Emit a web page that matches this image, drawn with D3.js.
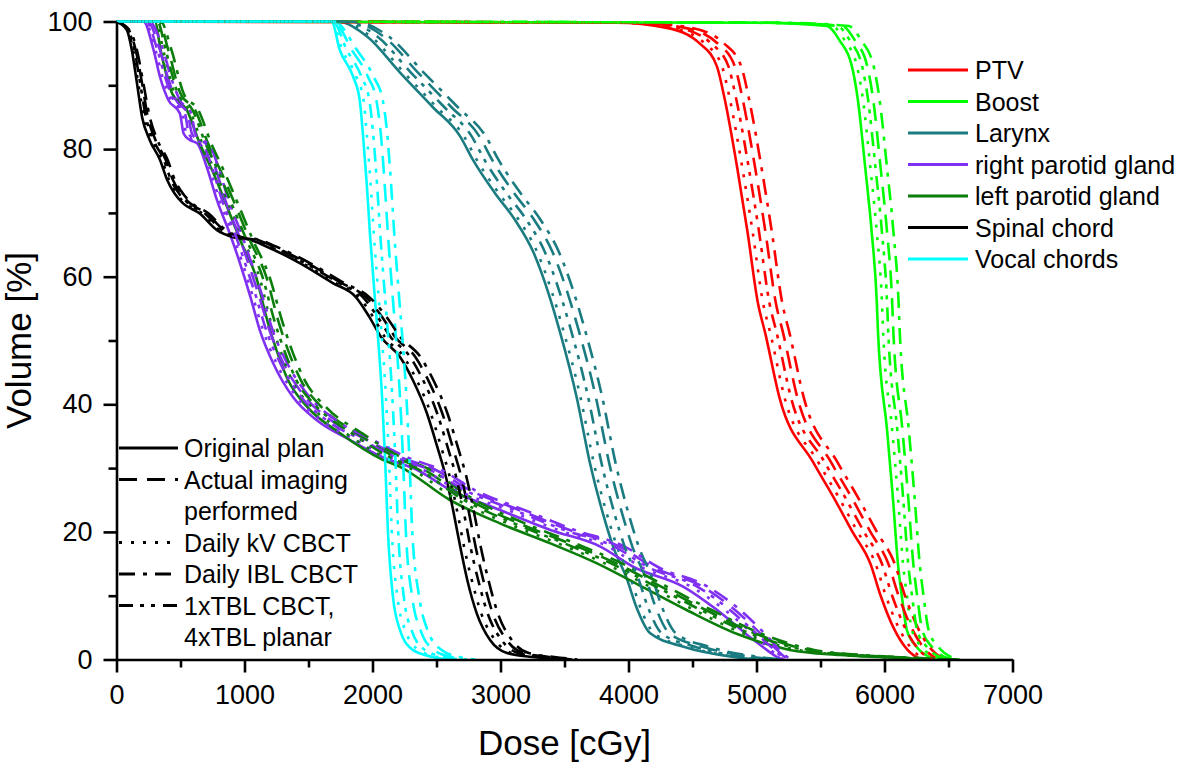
<!DOCTYPE html>
<html><head><meta charset="utf-8">
<script src="https://cdn.jsdelivr.net/npm/d3@7"></script>
<style>body{margin:0;background:#fff}svg{display:block}text{font-family:"Liberation Sans",Arial,Helvetica,sans-serif;fill:#000}</style>
</head><body>
<svg id="c" width="1181" height="769"></svg>
<script>
// ---- axis ticks ----
const doseTicks = [0,1000,2000,3000,4000,5000,6000,7000];
const doseMinor = [500,1500,2500,3500,4500,5500,6500];
const volTicks = [0,20,40,60,80,100];
const volMinor = [10,30,50,70,90];

// ---- names ----
const structures = ["PTV","Boost","Larynx","right parotid gland","left parotid gland","Spinal chord","Vocal chords"];
const structColors = ["#ff0000","#00ff00","#1a7c80","#8030f0","#0b7d0b","#000000","#00ffff"];
const scenarios = [["Original plan"],["Actual imaging","performed"],["Daily kV CBCT"],["Daily IBL CBCT"],["1xTBL CBCT,","4xTBL planar"]];
const scenarioDash = [null,"18,10","3,9","16,8,4,8","14,7,4,7,4,8"];

// ---- PTV ----
const ptvVol    = [100,99.8,99,96.5,93,88,77,67,56,51,41,31,25.5,20,15,10,5,1.5,0];
const ptvOrig   = [0,3900,4300,4560,4690,4750,4850,4930,5010,5070,5180,5440,5600,5750,5890,5970,6070,6180,6280];
const ptvActual = [0,4040,4440,4700,4830,4890,4990,5070,5150,5210,5320,5580,5740,5890,6030,6110,6210,6320,6420];
const ptvKV     = [0,3940,4340,4600,4730,4790,4890,4970,5050,5110,5220,5480,5640,5790,5930,6010,6110,6220,6320];
const ptvIBL    = [0,4090,4490,4750,4880,4940,5040,5120,5200,5260,5370,5630,5790,5940,6080,6160,6260,6370,6470];
const ptvTBL    = [0,3990,4390,4650,4780,4840,4940,5020,5100,5160,5270,5530,5690,5840,5980,6060,6160,6270,6370];

// ---- Boost ----
const boostVol    = [100,99.8,99.3,97,93,88,77,67,56,51,36,25.5,15,10,4.6,2,0.4,0];
const boostOrig   = [0,5000,5550,5650,5745,5790,5850,5900,5940,5950,6020,6065,6105,6135,6175,6250,6350,6420];
const boostActual = [0,5120,5670,5770,5865,5910,5970,6020,6060,6070,6140,6185,6225,6255,6295,6370,6470,6540];
const boostKV     = [0,5040,5590,5690,5785,5830,5890,5940,5980,5990,6060,6105,6145,6175,6215,6290,6390,6460];
const boostIBL    = [0,5170,5720,5820,5915,5960,6020,6070,6110,6120,6190,6235,6275,6305,6345,6420,6520,6590];
const boostTBL    = [0,5080,5630,5730,5825,5870,5930,5980,6020,6030,6100,6145,6185,6215,6255,6330,6430,6500];

// ---- Larynx ----
const larVol    = [100,100,97.6,92,86.6,82,78.3,73,69,63.7,57.4,51.3,41.1,30.7,22.9,17.7,12.5,8.3,4.1,2.0,0.4,0];
const larOrig   = [0,1720,1960,2215,2470,2685,2785,2960,3110,3260,3375,3465,3595,3700,3800,3880,3990,4060,4170,4430,4820,5000];
const larActual = [0,1820,2090,2355,2615,2835,2935,3110,3260,3410,3525,3615,3745,3850,3950,4030,4140,4210,4320,4580,4970,5150];
const larKV     = [0,1740,1990,2245,2500,2715,2815,2990,3140,3290,3405,3495,3625,3730,3830,3910,4020,4090,4200,4460,4850,5030];
const larIBL    = [0,1850,2130,2400,2665,2885,2985,3160,3310,3460,3575,3665,3795,3900,4000,4080,4190,4260,4370,4630,5020,5200];
const larTBL    = [0,1780,2040,2300,2560,2775,2875,3050,3200,3350,3465,3555,3685,3790,3890,3970,4080,4150,4260,4520,4910,5090];

// ---- right parotid gland ----
const rpVol    = [100,100,95.5,91.3,87.7,85.6,82.4,81.4,80.9,77.2,72.0,66.5,62.1,56.9,51.6,46.4,41.1,37.5,34.4,31.7,29.7,26.6,23.4,20.3,17.7,14.5,11.4,7.8,3.5,1.5,0.4,0];
const rpOrig   = [0,210,290,340,405,495,525,575,630,705,785,890,965,1045,1120,1225,1380,1565,1825,2080,2350,2605,3000,3390,3780,4040,4430,4690,4950,5080,5160,5200];
const rpActual = [0,240,340,400,465,555,590,640,695,770,850,955,1030,1115,1195,1305,1475,1675,1960,2225,2495,2755,3150,3540,3930,4190,4580,4830,5060,5160,5220,5250];
const rpKV     = [0,220,305,360,425,515,545,595,650,725,805,910,985,1065,1145,1250,1410,1600,1870,2130,2400,2660,3060,3450,3840,4100,4490,4750,5000,5110,5180,5210];
const rpIBL    = [0,255,365,425,495,585,615,665,720,795,875,980,1055,1140,1220,1335,1510,1715,2005,2270,2540,2795,3190,3580,3970,4230,4620,4870,5090,5180,5240,5270];
const rpTBL    = [0,230,320,380,445,535,565,615,670,745,825,930,1005,1090,1170,1280,1445,1640,1920,2180,2450,2715,3110,3500,3890,4150,4540,4790,5030,5140,5200,5230];

// ---- left parotid gland ----
const lpVol    = [100,100,95.5,88.7,86.1,80.9,76.1,70.9,65.8,60.0,53.0,48.5,43.8,39.6,35.5,31.3,30.2,25.0,21.3,18.2,15.1,11.9,7.8,4.0,1.5,0.7,0.2,0];
const lpOrig   = [0,300,345,435,550,650,760,865,965,1090,1180,1250,1340,1490,1745,2080,2215,2605,3000,3390,3750,4060,4450,4850,5260,5650,6180,6500];
const lpActual = [0,330,405,500,615,715,825,935,1040,1170,1265,1340,1440,1600,1875,2220,2360,2755,3150,3540,3900,4210,4600,5000,5410,5790,6290,6560];
const lpKV     = [0,310,365,455,570,670,780,885,990,1115,1205,1280,1370,1525,1790,2130,2270,2665,3060,3450,3810,4120,4510,4910,5320,5700,6220,6520];
const lpIBL    = [0,345,430,525,640,740,850,960,1065,1195,1295,1370,1470,1635,1915,2265,2405,2800,3195,3585,3945,4255,4645,5045,5450,5830,6320,6580];
const lpTBL    = [0,320,385,480,595,695,805,910,1015,1140,1235,1310,1405,1565,1835,2180,2320,2715,3110,3500,3860,4170,4560,4960,5370,5750,6260,6540];

// ---- Spinal chord ----
const scVol    = [100,98.7,95.5,90.3,85,81.4,78.3,75.2,73,71.5,69.9,67.3,66.2,65.8,64.7,62.1,59,56.8,53.7,50.6,47.4,43.8,38.6,33.4,28.1,22.9,17.7,12.5,7.2,3.0,1.0,0.4,0];
const scOrig   = [0,80,120,160,200,260,340,395,455,520,650,785,910,1040,1175,1435,1690,1870,1975,2065,2215,2315,2425,2505,2580,2635,2685,2740,2815,2920,3050,3250,3450];
const scActual = [0,95,150,200,245,305,385,440,505,575,705,840,965,1095,1230,1495,1760,1950,2075,2175,2335,2435,2545,2625,2700,2755,2805,2865,2940,3050,3180,3380,3560];
const scKV     = [0,85,130,170,215,275,355,410,470,540,670,805,930,1060,1195,1455,1715,1895,2005,2095,2245,2345,2455,2535,2610,2665,2715,2775,2850,2960,3090,3290,3480];
const scIBL    = [0,100,160,210,260,320,400,455,520,590,720,855,980,1110,1250,1515,1780,1975,2110,2215,2375,2475,2585,2665,2740,2795,2845,2905,2980,3090,3220,3420,3600];
const scTBL    = [0,90,140,185,230,290,370,425,490,560,690,825,950,1080,1215,1475,1740,1925,2040,2140,2295,2395,2505,2585,2660,2715,2765,2825,2900,3010,3140,3340,3520];

// ---- Vocal chords ----
const vcVol    = [100,100,95.5,91.3,87.7,82.4,74.6,66.8,56.3,51.3,41.1,30.7,20.3,9.8,4.6,1.5,0.4,0];
const vcOrig   = [0,1680,1745,1850,1900,1925,1955,1980,2020,2040,2075,2100,2120,2160,2215,2315,2470,2600];
const vcActual = [0,1695,1840,1965,2030,2065,2095,2120,2160,2180,2215,2240,2260,2310,2375,2480,2620,2740];
const vcKV     = [0,1685,1765,1875,1930,1955,1985,2010,2050,2070,2105,2130,2150,2195,2255,2360,2510,2640];
const vcIBL    = [0,1700,1880,2010,2080,2115,2145,2170,2210,2230,2265,2290,2310,2365,2430,2540,2680,2800];
const vcTBL    = [0,1690,1800,1915,1975,2005,2035,2060,2100,2120,2155,2180,2200,2245,2305,2410,2560,2690];

const curves = [
  {vol: ptvVol,   doses: [ptvOrig, ptvActual, ptvKV, ptvIBL, ptvTBL]},
  {vol: boostVol, doses: [boostOrig, boostActual, boostKV, boostIBL, boostTBL]},
  {vol: larVol,   doses: [larOrig, larActual, larKV, larIBL, larTBL]},
  {vol: rpVol,    doses: [rpOrig, rpActual, rpKV, rpIBL, rpTBL]},
  {vol: lpVol,    doses: [lpOrig, lpActual, lpKV, lpIBL, lpTBL]},
  {vol: scVol,    doses: [scOrig, scActual, scKV, scIBL, scTBL]},
  {vol: vcVol,    doses: [vcOrig, vcActual, vcKV, vcIBL, vcTBL]}
];

const svg = d3.select("#c");
const x = d3.scaleLinear().domain([0,7000]).range([116.5,1012.5]);
const y = d3.scaleLinear().domain([0,100]).range([659.5,21.5]);

const line = d3.line().x(d=>x(d[0])).y(d=>y(d[1])).curve(d3.curveMonotoneX);

const plot = svg.append("g");
scenarios.forEach((sc, si) => {
  curves.forEach((c, ci) => {
    const pts = c.doses[si].map((d,i)=>[d, c.vol[i]]);
    plot.append("path").attr("d", line(pts))
      .attr("fill","none").attr("stroke", structColors[ci]).attr("stroke-width",2.6)
      .attr("stroke-dasharray", scenarioDash[si]);
  });
});

// axes
const fontTick = 27;
svg.append("g").attr("transform",`translate(0,${y(0)})`)
  .call(d3.axisBottom(x).tickValues(doseTicks).tickSize(13).tickSizeOuter(0).tickPadding(12).tickFormat(d3.format("d")));
svg.append("g").attr("transform",`translate(0,${y(0)})`)
  .call(d3.axisBottom(x).tickValues(doseMinor).tickSize(8).tickSizeOuter(0).tickFormat(""))
  .select(".domain").remove();
svg.append("g").attr("transform",`translate(${x(0)},0)`)
  .call(d3.axisLeft(y).tickValues(volTicks).tickSize(13).tickSizeOuter(0).tickPadding(11));
svg.append("g").attr("transform",`translate(${x(0)},0)`)
  .call(d3.axisLeft(y).tickValues(volMinor).tickSize(8).tickSizeOuter(0).tickFormat(""))
  .select(".domain").remove();
svg.selectAll(".domain, .tick line").attr("stroke","#000").attr("stroke-width",2.6);
svg.selectAll(".tick text").attr("font-size",fontTick).attr("font-family",'"Liberation Sans",Arial,sans-serif').attr("fill","#000");

// axis titles
svg.append("text").attr("x",(x(0)+x(7000))/2).attr("y",755).attr("text-anchor","middle")
  .attr("font-size",35).text("Dose [cGy]");
svg.append("text").attr("transform",`translate(31,${(y(0)+y(100))/2}) rotate(-90)`).attr("text-anchor","middle")
  .attr("font-size",35).text("Volume [%]");

// structure legend
const lg1 = svg.append("g");
structures.forEach((s,i)=>{
  const cy = 70 + i*31.5;
  lg1.append("line").attr("x1",908).attr("x2",968).attr("y1",cy).attr("y2",cy)
    .attr("stroke",structColors[i]).attr("stroke-width",3);
  lg1.append("text").attr("x",975).attr("y",cy+9).attr("font-size",25).text(s);
});

// scenario legend
const lg2 = svg.append("g");
let row = 0;
scenarios.forEach((sc,i)=>{
  const cy = 448 + row*31.5;
  lg2.append("line").attr("x1",119).attr("x2",178).attr("y1",cy).attr("y2",cy)
    .attr("stroke","#000").attr("stroke-width",3).attr("stroke-dasharray",scenarioDash[i]);
  sc.forEach((t,j)=>{
    lg2.append("text").attr("x",184).attr("y",cy+9+j*31.5).attr("font-size",25).text(t);
  });
  row += sc.length;
});
</script>
</body></html>
